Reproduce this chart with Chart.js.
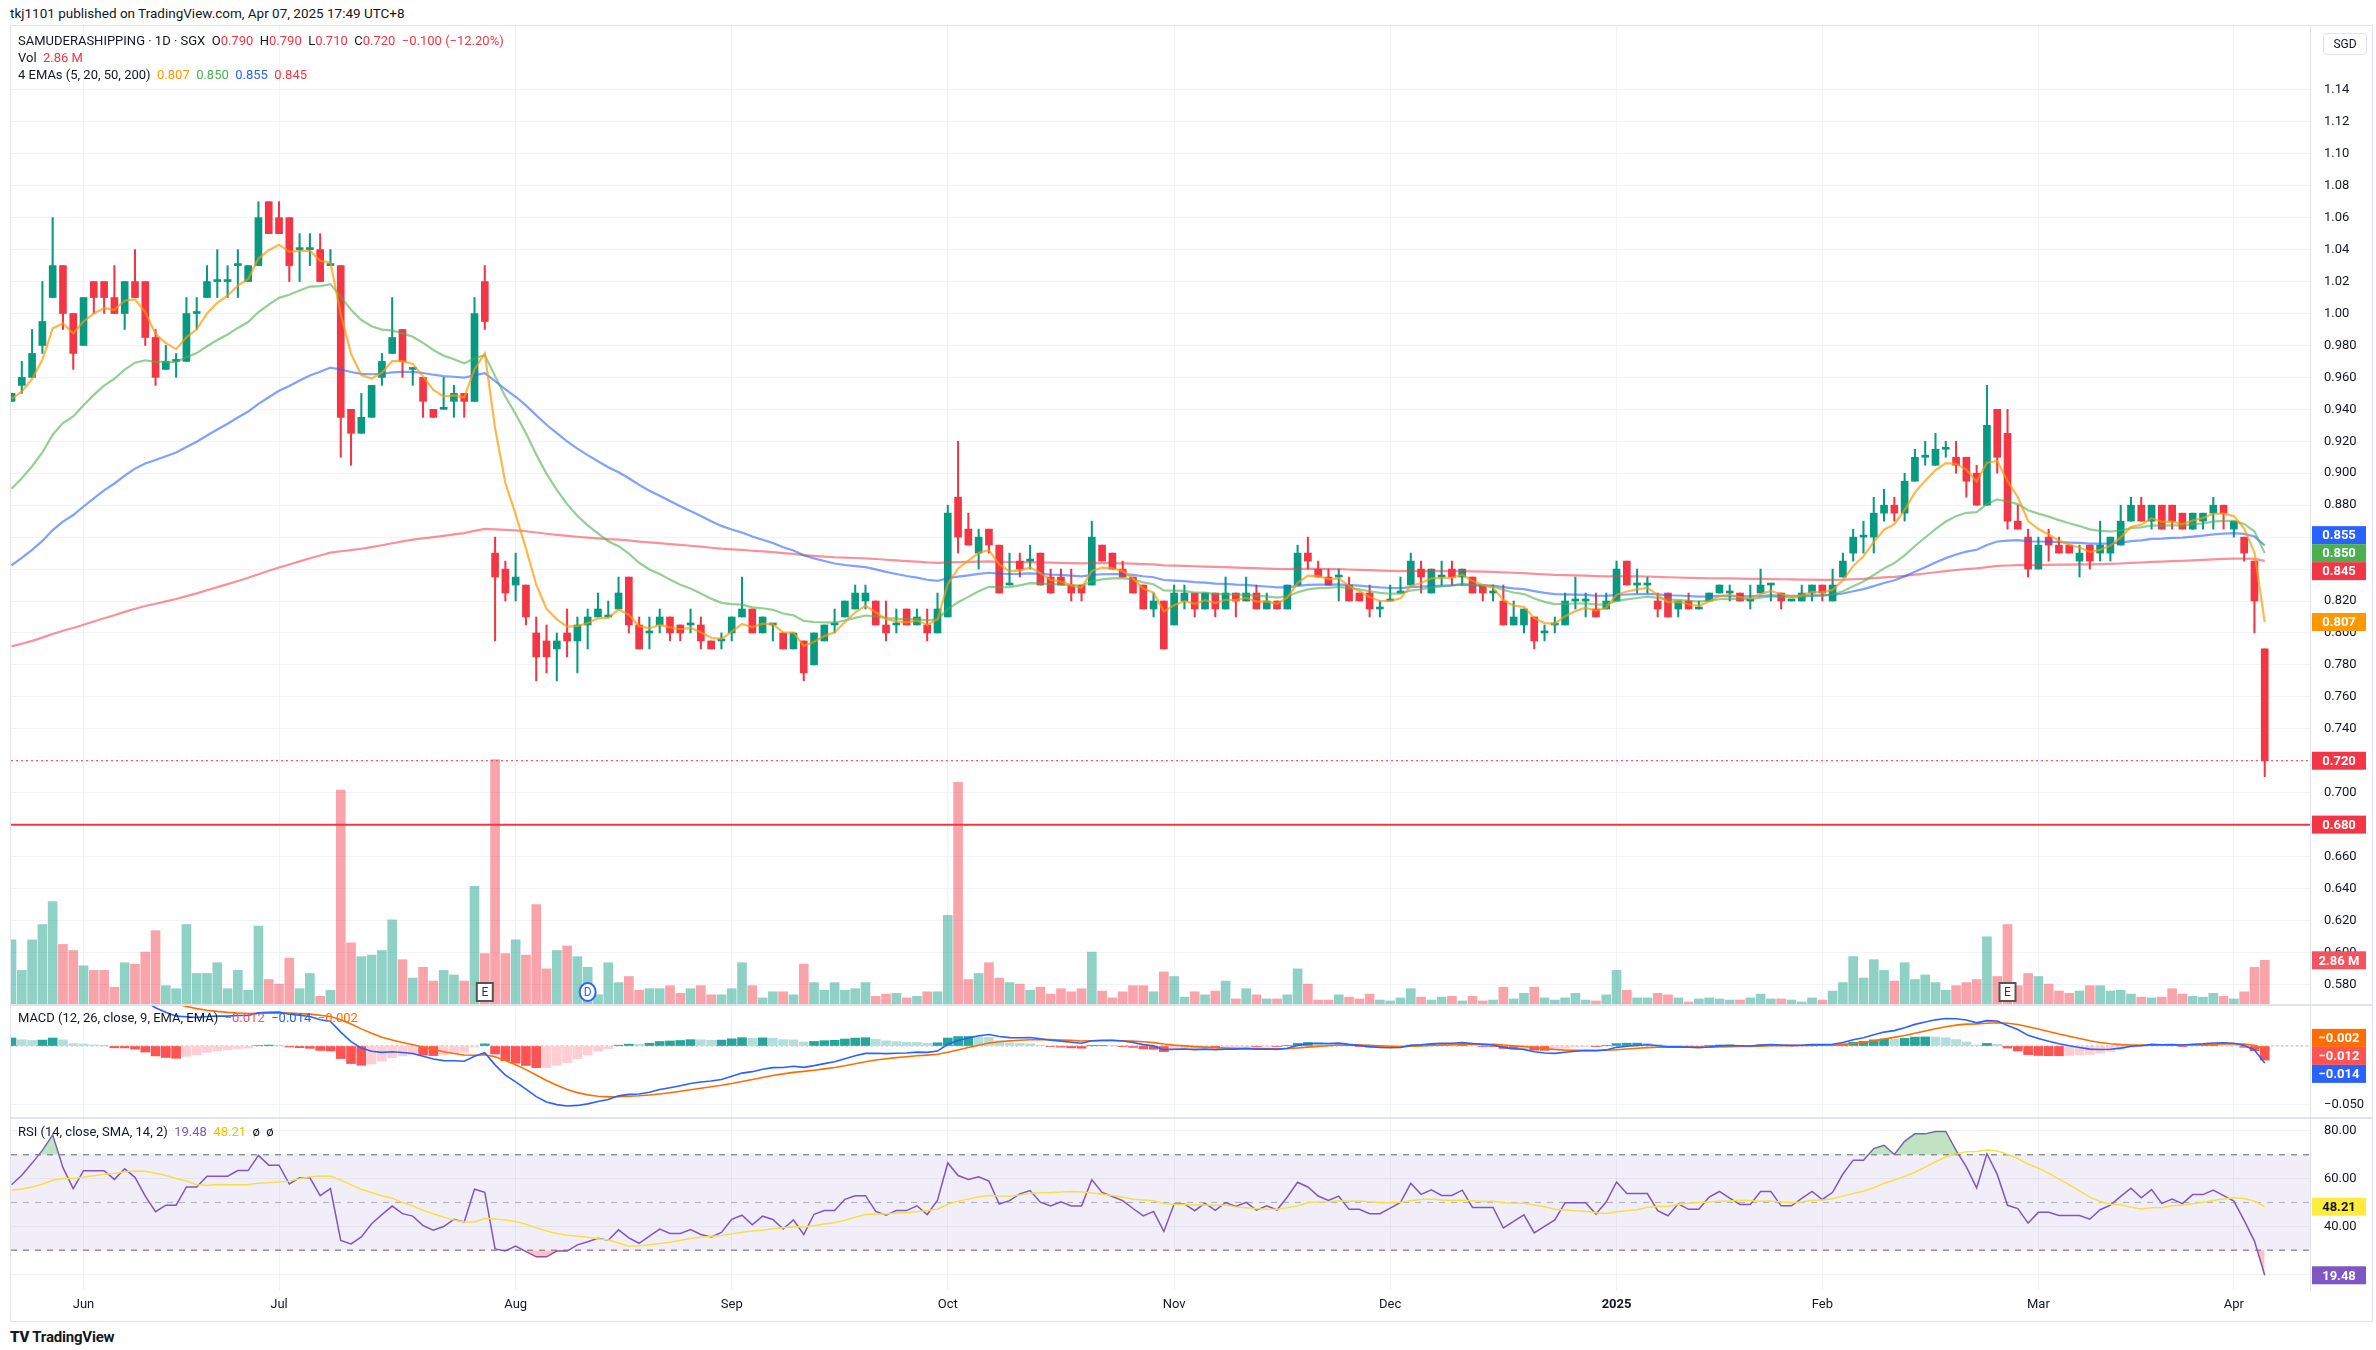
<!DOCTYPE html>
<html>
<head>
<meta charset="utf-8">
<script src="https://cdn.jsdelivr.net/npm/chart.js@4.4.1/dist/chart.umd.min.js"></script>
<style>
body{margin:0;background:#fff;font-family:Roboto,'Open Sans',sans-serif;}
#wrap{position:relative;width:2376px;height:1350px;overflow:hidden;background:#fff;}
canvas{position:absolute;}
.t{position:absolute;white-space:nowrap;font-size:13px;color:#131722;}
.r{color:#F23645;}
.line{position:absolute;background:#e0e3eb;}
</style>
</head>
<body>
<div id="wrap">
  <div class="t" style="left:10px;top:5px;font-size:13.5px">tkj1101 published on TradingView.com, Apr 07, 2025 17:49 UTC+8</div>
  <div class="line" style="left:10px;top:25px;width:2363px;height:1px"></div>
  <div class="line" style="left:10px;top:25px;width:1px;height:1297px"></div>
  <div class="line" style="left:2372px;top:25px;width:1px;height:1297px"></div>
  <div class="line" style="left:10px;top:1321px;width:2363px;height:1px"></div>
  <div class="line" style="left:10px;top:1004px;width:2363px;height:2px"></div>
  <div class="line" style="left:10px;top:1117px;width:2363px;height:2px"></div>
  <canvas id="price" width="2361" height="978" style="left:11px;top:26px"></canvas>
  <canvas id="macd" width="2361" height="111" style="left:11px;top:1006px"></canvas>
  <canvas id="rsi" width="2361" height="201" style="left:11px;top:1119px"></canvas>
  <div class="t" style="left:18px;top:33px">SAMUDERASHIPPING · 1D · SGX &nbsp;O<span class="r">0.790</span> &nbsp;H<span class="r">0.790</span> &nbsp;L<span class="r">0.710</span> &nbsp;C<span class="r">0.720</span> &nbsp;<span class="r">−0.100 (−12.20%)</span></div>
  <div class="t" style="left:18px;top:50px">Vol &nbsp;<span class="r">2.86 M</span></div>
  <div class="t" style="left:18px;top:67px">4 EMAs (5, 20, 50, 200) &nbsp;<span style="color:#FF9800">0.807</span> &nbsp;<span style="color:#4CAF50">0.850</span> &nbsp;<span style="color:#2962FF">0.855</span> &nbsp;<span style="color:#F23645">0.845</span></div>
  <div class="t" style="left:18px;top:1010px">MACD (12, 26, close, 9, EMA, EMA) &nbsp;<span style="color:#FF5252">−0.012</span> &nbsp;<span style="color:#2962FF">−0.014</span> &nbsp;<span style="color:#FF6D00">−0.002</span></div>
  <div class="t" style="left:18px;top:1124px">RSI (14, close, SMA, 14, 2) &nbsp;<span style="color:#7E57C2">19.48</span> &nbsp;<span style="color:#E8C500">48.21</span> &nbsp;ø &nbsp;ø</div>
  <div class="t" style="left:2323px;top:33px;width:42px;height:20px;border:1px solid #e0e3eb;border-radius:4px;text-align:center;line-height:20px;font-size:12px">SGD</div>
  <div class="t" style="left:10px;top:1328px;font-size:15px;font-weight:bold;letter-spacing:-0.2px"><span style="font-weight:900">TV</span> TradingView</div>
</div>
<script>
// daily OHLC, 220 sessions (late May 2024 – Apr 7 2025)
const opens = [
.945,.955,.96,.98,1.01,1.03,1.00,.98,1.02,1.02, 1.01,1.00,1.02,1.02,.985,.965,.97,.97,1.00,1.01,
1.02,1.02,1.03,1.02,1.03,1.07,1.06,1.06,1.04,1.04, 1.04,1.03,1.03,.94,.925,.935,.96,.975,.99,.965,
.96,.94,.94,.945,.95,.945,1.02,.85,.84,.83, .83,.80,.795,.79,.80,.795,.805,.81,.81,.815,
.835,.805,.80,.805,.81,.805,.805,.805,.795,.795, .80,.81,.815,.80,.805,.80,.79,.795,.78,.795,
.805,.81,.815,.82,.82,.805,.805,.815,.805,.805, .80,.81,.885,.865,.85,.865,.855,.83,.845,.845,
.85,.835,.835,.83,.83,.83,.855,.85,.84,.835, .83,.815,.82,.805,.82,.825,.815,.825,.815,.825,
.82,.825,.815,.82,.815,.83,.85,.84,.835,.835, .83,.825,.825,.815,.82,.825,.83,.84,.825,.835,
.84,.835,.835,.83,.825,.82,.805,.805,.81,.80, .805,.805,.82,.82,.815,.815,.82,.845,.83,.83,
.82,.825,.815,.82,.815,.82,.825,.825,.825,.82, .825,.83,.825,.82,.82,.825,.83,.82,.835,.85,
.86,.86,.875,.88,.875,.895,.91,.905,.915,.91, .91,.90,.88,.94,.925,.87,.86,.84,.86,.855,
.855,.845,.855,.85,.85,.855,.87,.88,.87,.88, .88,.875,.865,.87,.875,.88,.865,.86,.845,.79];
const highs = [
.95,.97,.99,1.02,1.06,1.03,1.00,1.01,1.02,1.02, 1.03,1.02,1.04,1.02,.99,.98,.975,1.01,1.01,1.03,
1.04,1.03,1.04,1.03,1.07,1.07,1.07,1.06,1.05,1.05, 1.05,1.04,1.03,.94,.95,.955,.975,1.01,.99,.965,
.96,.94,.96,.955,.95,1.01,1.03,.86,.845,.85, .83,.81,.805,.80,.815,.81,.815,.825,.82,.835,
.835,.81,.81,.815,.81,.805,.815,.81,.795,.80, .81,.835,.815,.81,.805,.80,.80,.795,.80,.805,
.815,.82,.83,.83,.82,.82,.815,.815,.815,.815, .825,.88,.92,.875,.865,.865,.855,.85,.85,.855,
.85,.84,.84,.84,.83,.87,.855,.85,.845,.835, .83,.825,.82,.83,.83,.825,.825,.825,.835,.825,
.835,.83,.825,.82,.83,.855,.86,.845,.84,.84, .835,.825,.83,.82,.83,.835,.85,.845,.84,.845,
.845,.84,.835,.83,.83,.83,.82,.815,.81,.805, .81,.825,.835,.825,.825,.825,.845,.845,.84,.835,
.825,.825,.82,.825,.82,.825,.83,.83,.825,.83, .84,.83,.825,.82,.83,.83,.83,.84,.85,.865,
.87,.885,.89,.885,.90,.915,.92,.925,.92,.92, .91,.905,.955,.94,.94,.88,.865,.86,.865,.86,
.855,.855,.855,.87,.86,.88,.885,.885,.88,.88, .88,.875,.875,.875,.885,.88,.87,.86,.845,.79];
const lows = [
.945,.95,.96,.975,1.01,.99,.965,.98,1.00,1.00, 1.00,.99,1.01,.98,.955,.965,.96,.97,.99,1.01,
1.01,1.01,1.01,1.02,1.03,1.05,1.05,1.02,1.02,1.03, 1.02,1.03,.91,.905,.925,.935,.955,.975,.96,.955,
.935,.935,.94,.935,.935,.945,.99,.795,.82,.82, .805,.77,.775,.77,.785,.775,.79,.81,.81,.815,
.80,.79,.79,.80,.795,.795,.80,.79,.79,.79, .795,.81,.80,.80,.795,.79,.79,.77,.78,.795,
.80,.81,.815,.815,.805,.795,.80,.805,.805,.795, .80,.81,.85,.855,.84,.85,.825,.83,.835,.84,
.83,.825,.83,.82,.82,.83,.845,.84,.835,.825, .815,.81,.79,.805,.815,.81,.815,.81,.815,.81,
.82,.815,.815,.815,.815,.83,.84,.835,.83,.82, .82,.82,.81,.81,.82,.825,.83,.825,.825,.83,
.83,.83,.825,.82,.82,.805,.805,.80,.79,.795, .80,.805,.815,.81,.81,.815,.82,.83,.825,.825,
.81,.81,.81,.815,.815,.82,.825,.82,.82,.815, .825,.82,.815,.82,.82,.82,.82,.82,.835,.845,
.85,.85,.87,.87,.87,.895,.905,.905,.91,.90, .885,.88,.88,.90,.865,.865,.835,.84,.845,.85,
.85,.835,.84,.845,.845,.855,.87,.87,.865,.865, .865,.865,.865,.865,.865,.865,.86,.845,.80,.71];
const closes = [
.95,.96,.975,.995,1.03,1.00,.975,1.01,1.01,1.01, 1.00,1.02,1.01,.985,.96,.97,.97,1.00,1.00,1.02,
1.02,1.02,1.03,1.03,1.06,1.05,1.05,1.03,1.04,1.04, 1.02,1.03,.935,.925,.935,.955,.97,.985,.97,.965,
.945,.935,.94,.95,.945,1.00,.995,.835,.825,.835, .81,.785,.785,.795,.795,.805,.81,.815,.81,.825,
.805,.79,.80,.81,.80,.80,.805,.795,.79,.795, .81,.815,.80,.81,.805,.79,.80,.775,.80,.805,
.805,.82,.825,.825,.805,.80,.805,.805,.81,.80, .815,.875,.86,.855,.86,.855,.825,.83,.84,.845,
.83,.825,.83,.825,.825,.86,.845,.84,.835,.825, .815,.82,.79,.825,.825,.815,.825,.815,.825,.82,
.825,.815,.82,.815,.83,.85,.845,.835,.83,.835, .82,.82,.815,.815,.82,.825,.845,.835,.84,.835,
.835,.84,.825,.825,.825,.805,.81,.815,.795,.80, .805,.82,.82,.82,.81,.82,.84,.83,.83,.83,
.815,.81,.82,.815,.815,.825,.83,.825,.82,.82, .83,.83,.82,.82,.825,.83,.825,.83,.845,.86,
.86,.875,.88,.875,.895,.91,.91,.915,.915,.905, .895,.88,.93,.91,.87,.865,.84,.855,.855,.85,
.85,.85,.845,.855,.86,.87,.88,.87,.88,.865, .87,.865,.875,.875,.88,.875,.87,.85,.82,.72];
// volume in millions
const volumes = [
4.2,2.2,4.2,5.2,6.7,3.9,3.5,2.5,2.2,2.2, 1.1,2.7,2.6,3.4,4.8,1.2,1.0,5.2,2.0,2.0,
2.7,1.0,2.2,0.9,5.1,1.6,1.3,3.0,1.0,2.0, 0.5,0.9,14.0,4.0,3.1,3.2,3.5,5.5,2.9,1.7,
2.4,1.5,2.2,1.9,1.5,7.7,3.3,16.0,3.3,4.2, 3.2,6.5,2.3,3.5,3.8,3.1,2.4,0.6,2.7,1.4,
1.8,0.9,1.0,1.0,1.2,0.7,1.0,1.2,0.6,0.6, 1.0,2.7,1.2,0.4,0.8,0.8,0.6,2.6,1.4,0.9,
1.4,0.9,1.0,1.4,0.5,0.65,0.7,0.4,0.5,0.8, 0.8,5.8,14.5,1.6,2.0,2.7,1.7,1.4,1.3,0.9,
1.1,0.65,1.0,0.8,1.0,3.4,0.85,0.4,0.8,1.2, 1.2,0.8,2.1,1.8,0.45,0.8,0.6,0.85,1.5,0.33,
1.0,0.6,0.33,0.33,0.6,2.3,1.3,0.26,0.26,0.6, 0.45,0.33,0.65,0.26,0.2,0.4,1.0,0.45,0.26,0.45,
0.5,0.2,0.5,0.2,0.26,1.1,0.33,0.7,1.1,0.4, 0.26,0.4,0.7,0.26,0.2,0.6,2.2,0.9,0.4,0.4,
0.7,0.6,0.4,0.13,0.33,0.4,0.33,0.26,0.26,0.4, 0.65,0.33,0.33,0.26,0.13,0.4,0.26,0.85,1.4,3.1,
1.7,2.9,2.2,1.5,2.7,1.6,1.9,1.4,0.9,1.2, 1.4,1.6,4.4,1.8,5.2,1.2,2.0,1.8,1.3,0.85,
0.7,0.85,1.2,1.2,0.85,0.9,0.65,0.45,0.4,0.45, 1.0,0.65,0.5,0.45,0.7,0.5,0.33,0.8,2.4,2.86];

// month ticks (bar index) and labels
const monthIdx = [7, 26, 49, 70, 91, 113, 134, 156, 176, 197, 216];
const monthLabels = ['Jun','Jul','Aug','Sep','Oct','Nov','Dec','2025','Feb','Mar','Apr'];

const emaPeriods = [5, 20, 50, 200];
const emaSeeds = [0.945, 0.884, 0.838, 0.790];
const emaColors = ['rgba(255,152,0,0.7)', 'rgba(76,175,80,0.6)', 'rgba(41,98,255,0.6)', 'rgba(242,54,69,0.55)'];
const macdSeeds = { fast: 0.915, slow: 0.870, signal: 0.036 };
const rsiSeeds = { gain: 0.0042, loss: 0.0034, prevClose: 0.945, ma: 55 };
const supportLevel = 0.680;

const UP = '#089981', DOWN = '#F23645';
const idx = closes.map((_, i) => i);
const isUp = closes.map((c, i) => c >= opens[i]);

function ema(src, n, seed) {
    const k = 2 / (n + 1);
    let e = seed;
    return src.map(v => (e = v * k + e * (1 - k)));
}
const emas = emaPeriods.map((p, j) => ema(closes, p, emaSeeds[j]));
const fast = ema(closes, 12, macdSeeds.fast);
const slow = ema(closes, 26, macdSeeds.slow);
const macd = fast.map((f, i) => f - slow[i]);
const signal = ema(macd, 9, macdSeeds.signal);
const hist = macd.map((m, i) => m - signal[i]);
const histColors = hist.map((h, i) => {
    const p = i ? hist[i - 1] : h;
    return h >= 0 ? (h >= p ? '#26A69A' : '#B2DFDB') : (h < p ? '#FF5252' : '#FFCDD2');
});

let ag = rsiSeeds.gain, al = rsiSeeds.loss, pc = rsiSeeds.prevClose;
const rsi = closes.map(c => {
    const d = c - pc; pc = c;
    ag = (ag * 13 + Math.max(d, 0)) / 14;
    al = (al * 13 + Math.max(-d, 0)) / 14;
    return 100 - 100 / (1 + ag / al);
});
const rsiWin = new Array(13).fill(rsiSeeds.ma);
const rsiMa = rsi.map(r => {
    rsiWin.push(r);
    const w = rsiWin.slice(-14);
    return w.reduce((a, b) => a + b, 0) / 14;
});

const pts = arr => arr.map((v, i) => ({ x: i, y: v }));
const AXIS_W = 62;

function xAxis(showLabels) {
    return {
        type: 'linear', min: -0.05, max: 223.4, offset: false,
        afterBuildTicks: s => { s.ticks = monthIdx.map(v => ({ value: v })); },
        afterFit: s => { s.height = showLabels ? 30 : 0; s.paddingLeft = 0; s.paddingRight = 0; },
        grid: { color: '#f2f3f6', drawTicks: false, offset: false },
        border: { display: false },
        ticks: {
            display: showLabels, padding: 7, maxRotation: 0, autoSkip: false,
            color: '#131722',
            font: ctx => ({ family: 'Roboto', size: 13, weight: ctx.tick && ctx.tick.value === 156 ? 'bold' : 'normal' }),
            callback: v => monthLabels[monthIdx.indexOf(v)]
        }
    };
}
function yAxis(min, max, ticks, fmt) {
    return {
        position: 'right', min, max,
        afterBuildTicks: s => { s.ticks = ticks.map(v => ({ value: v })); },
        afterFit: s => { s.width = AXIS_W; s.paddingTop = 0; s.paddingBottom = 0; },
        grid: { color: '#f2f3f6', drawTicks: false },
        border: { display: true, color: '#e0e3eb' },
        ticks: { color: '#131722', padding: 14, font: { family: 'Roboto', size: 13 }, callback: fmt }
    };
}

function tagBox(ctx, area, y, text, bg, fg) {
    ctx.fillStyle = bg;
    ctx.fillRect(area.right + 2, y - 9, 54, 18);
    ctx.fillStyle = fg;
    ctx.font = 'bold 13px Roboto';
    ctx.textBaseline = 'middle';
    ctx.textAlign = 'center';
    ctx.fillText(text, area.right + 29, y + 1);
}
function drawTags(chart, tags) {
    const ctx = chart.ctx;
    tags.forEach(t => { t.y0 = chart.scales[t.axis].getPixelForValue(t.v); t.y = t.y0; });
    tags.sort((a, b) => a.y - b.y);
    for (let i = 1; i < tags.length; i++) if (tags[i].y - tags[i - 1].y < 18) tags[i].y = tags[i - 1].y + 18;
    const shift = tags.length > 2 ? (tags[tags.length - 1].y - tags[tags.length - 1].y0) / 2 : 0;
    ctx.save();
    tags.forEach(t => tagBox(ctx, chart.chartArea, t.y - shift, t.text, t.bg, t.fg || '#fff'));
    ctx.restore();
}

const n = closes.length - 1;
const priceLines = {
    id: 'priceLines',
    beforeDatasetsDraw(chart) {
        const { ctx, chartArea: a } = chart, y = chart.scales.y;
        ctx.save();
        ctx.strokeStyle = '#F23645'; ctx.lineWidth = 2;
        let py = y.getPixelForValue(supportLevel);
        ctx.beginPath(); ctx.moveTo(a.left, py); ctx.lineTo(a.right, py); ctx.stroke();
        ctx.lineWidth = 1; ctx.setLineDash([2, 3]);
        py = y.getPixelForValue(closes[n]);
        ctx.beginPath(); ctx.moveTo(a.left, py); ctx.lineTo(a.right, py); ctx.stroke();
        ctx.restore();
    },
    afterDatasetsDraw(chart) {
        const { ctx } = chart, x = chart.scales.x, base = chart.chartArea.bottom - 12;
        ctx.save();
        [[46, 'E'], [194, 'E']].forEach(([i, s]) => {
            const px = x.getPixelForValue(i);
            ctx.fillStyle = '#fff'; ctx.strokeStyle = '#555'; ctx.lineWidth = 2;
            ctx.fillRect(px - 8, base - 9, 16, 18); ctx.strokeRect(px - 8, base - 9, 16, 18);
            ctx.fillStyle = '#333'; ctx.font = '12px Roboto'; ctx.textAlign = 'center'; ctx.textBaseline = 'middle';
            ctx.fillText(s, px, base + 1);
        });
        const dx = x.getPixelForValue(56);
        ctx.fillStyle = '#fff'; ctx.strokeStyle = '#2962FF'; ctx.lineWidth = 2;
        ctx.beginPath(); ctx.ellipse(dx, base, 8, 9, 0, 0, Math.PI * 2); ctx.fill(); ctx.stroke();
        ctx.fillStyle = '#2962FF'; ctx.fillText('D', dx, base + 1);
        ctx.restore();
    },
    afterDraw(chart) {
        drawTags(chart, [
            { axis: 'y', v: emas[2][n], text: emas[2][n].toFixed(3), bg: '#2962FF' },
            { axis: 'y', v: emas[1][n], text: emas[1][n].toFixed(3), bg: '#4CAF50' },
            { axis: 'y', v: emas[3][n], text: emas[3][n].toFixed(3), bg: '#F23645' }
        ]);
        drawTags(chart, [{ axis: 'y', v: emas[0][n], text: emas[0][n].toFixed(3), bg: '#FF9800' }]);
        drawTags(chart, [{ axis: 'y', v: closes[n], text: closes[n].toFixed(3), bg: '#F23645' }]);
        drawTags(chart, [{ axis: 'y', v: supportLevel, text: supportLevel.toFixed(3), bg: '#F23645' }]);
        drawTags(chart, [{ axis: 'vol', v: volumes[n], text: volumes[n].toFixed(2) + ' M', bg: '#F7525F' }]);
    }
};

new Chart(document.getElementById('price'), {
    type: 'bar',
    data: {
        datasets: [
            ...emas.map((e, j) => ({
                type: 'line', data: pts(e), borderColor: emaColors[j], borderWidth: 2.2,
                pointRadius: 0, tension: 0, order: 0
            })),
            { data: idx.map(i => ({ x: i, y: [opens[i], closes[i]] })), backgroundColor: isUp.map(u => u ? UP : DOWN),
              barThickness: 7, minBarLength: 2, grouped: false, order: 1 },
            { data: idx.map(i => ({ x: i, y: [lows[i], highs[i]] })), backgroundColor: isUp.map(u => u ? UP : DOWN),
              barThickness: 1.4, grouped: false, order: 2 },
            { data: pts(volumes), yAxisID: 'vol', backgroundColor: isUp.map(u => u ? 'rgba(8,153,129,0.45)' : 'rgba(242,54,69,0.45)'),
              barThickness: 9, grouped: false, order: 10 }
        ]
    },
    options: {
        responsive: false, devicePixelRatio: 1, animation: false,
        layout: { padding: 0 },
        plugins: { legend: { display: false }, tooltip: { enabled: false } },
        scales: {
            x: xAxis(false),
            y: yAxis(0.5677, 1.18, Array.from({ length: 29 }, (_, i) => Math.round((0.58 + i * 0.02) * 100) / 100),
                v => v >= 0.995 ? v.toFixed(2) : v.toFixed(3)),
            vol: { display: false, min: 0, max: 64 }
        }
    },
    plugins: [priceLines]
});

new Chart(document.getElementById('macd'), {
    type: 'bar',
    data: {
        datasets: [
            { type: 'line', data: pts(macd), borderColor: '#2962FF', borderWidth: 1.6, pointRadius: 0, order: 0 },
            { type: 'line', data: pts(signal), borderColor: '#FF6D00', borderWidth: 1.6, pointRadius: 0, order: 0 },
            { data: pts(hist), backgroundColor: histColors, barThickness: 9, grouped: false, order: 1 }
        ]
    },
    options: {
        responsive: false, devicePixelRatio: 1, animation: false,
        layout: { padding: 0 },
        plugins: { legend: { display: false }, tooltip: { enabled: false } },
        scales: {
            x: xAxis(false),
            y: yAxis(-0.0602, 0.0339, [-0.05, 0], v => v === 0 ? '' : '−0.050')
        }
    },
    plugins: [{
        id: 'macdExtras',
        beforeDatasetsDraw(chart) {
            const { ctx, chartArea: a } = chart, py = chart.scales.y.getPixelForValue(0);
            ctx.save(); ctx.strokeStyle = '#b2b5be'; ctx.setLineDash([2, 3]);
            ctx.beginPath(); ctx.moveTo(a.left, py); ctx.lineTo(a.right, py); ctx.stroke(); ctx.restore();
        },
        afterDraw(chart) {
            drawTags(chart, [
                { axis: 'y', v: signal[n], text: '−' + Math.abs(signal[n]).toFixed(3), bg: '#FF6D00' },
                { axis: 'y', v: hist[n], text: '−' + Math.abs(hist[n]).toFixed(3), bg: '#FF5252' },
                { axis: 'y', v: macd[n], text: '−' + Math.abs(macd[n]).toFixed(3), bg: '#2962FF' }
            ]);
        }
    }]
});

new Chart(document.getElementById('rsi'), {
    type: 'line',
    data: {
        datasets: [
            { data: pts(rsi), borderColor: 'rgba(0,0,0,0)', pointRadius: 0,
              fill: { target: { value: 70 }, above: 'rgba(76,175,80,0.35)', below: 'rgba(0,0,0,0)' } },
            { data: pts(rsi), borderColor: 'rgba(0,0,0,0)', pointRadius: 0,
              fill: { target: { value: 30 }, above: 'rgba(0,0,0,0)', below: 'rgba(242,54,69,0.3)' } },
            { data: pts(rsiMa), borderColor: '#F7E046', borderWidth: 1.5, pointRadius: 0 },
            { data: pts(rsi), borderColor: '#7E57C2', borderWidth: 1.5, pointRadius: 0 }
        ]
    },
    options: {
        responsive: false, devicePixelRatio: 1, animation: false,
        layout: { padding: 0 },
        plugins: { legend: { display: false }, tooltip: { enabled: false } },
        scales: {
            x: xAxis(true),
            y: yAxis(13.3, 85, [20, 40, 60, 80], v => v === 20 ? '' : v.toFixed(2))
        }
    },
    plugins: [{
        id: 'rsiBand',
        beforeDatasetsDraw(chart) {
            const { ctx, chartArea: a } = chart, y = chart.scales.y;
            const y70 = y.getPixelForValue(70), y30 = y.getPixelForValue(30), y50 = y.getPixelForValue(50);
            ctx.save();
            ctx.fillStyle = 'rgba(126,87,194,0.1)';
            ctx.fillRect(a.left, y70, a.right - a.left, y30 - y70);
            ctx.setLineDash([6, 6]); ctx.lineWidth = 1.2;
            ctx.strokeStyle = '#787B86';
            [y70, y30].forEach(py => { ctx.beginPath(); ctx.moveTo(a.left, py); ctx.lineTo(a.right, py); ctx.stroke(); });
            ctx.strokeStyle = 'rgba(120,123,134,0.5)';
            ctx.beginPath(); ctx.moveTo(a.left, y50); ctx.lineTo(a.right, y50); ctx.stroke();
            ctx.restore();
        },
        afterDraw(chart) {
            drawTags(chart, [
                { axis: 'y', v: rsiMa[n], text: rsiMa[n].toFixed(2), bg: '#FFEB3B', fg: '#131722' },
                { axis: 'y', v: rsi[n], text: rsi[n].toFixed(2), bg: '#7E57C2' }
            ]);
        }
    }]
});
</script>
</body>
</html>
